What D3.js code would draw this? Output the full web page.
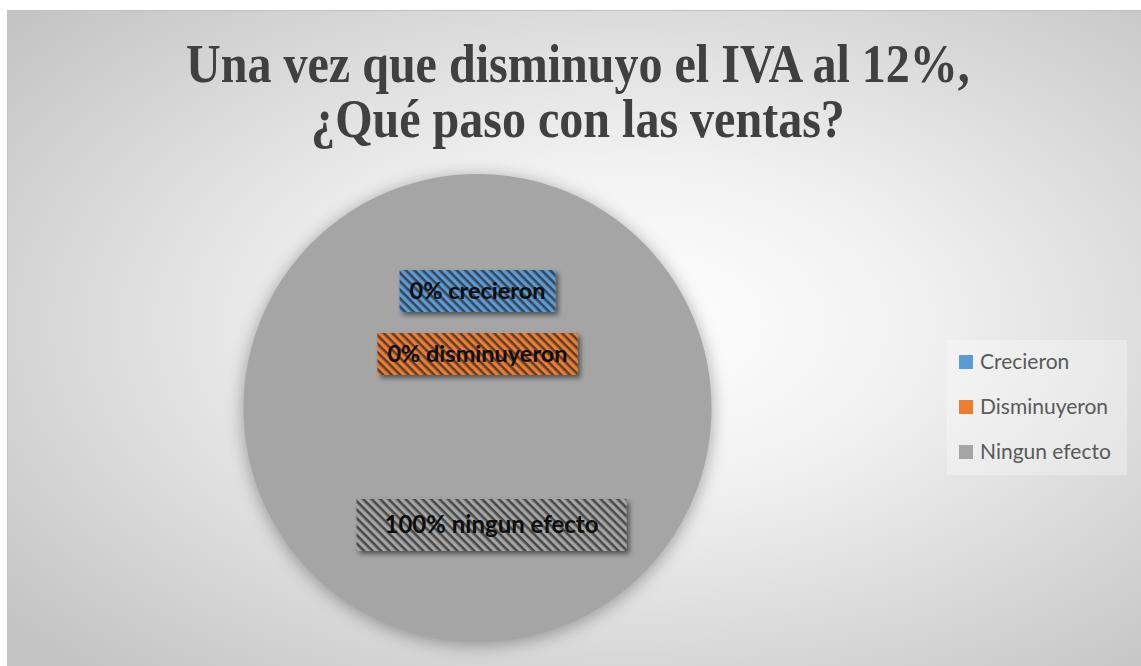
<!DOCTYPE html>
<html>
<head>
<meta charset="utf-8">
<script src="https://cdn.jsdelivr.net/npm/d3@7"></script>
<style>
  html, body { margin: 0; padding: 0; background: #ffffff; }
</style>
</head>
<body>
<div id="chartContainer"></div>
<script>
// data
var categories = ["Crecieron", "Disminuyeron", "Ningun efecto"];
var values = [0, 0, 100];
var labelTexts = ["0% crecieron", "0% disminuyeron", "100% ningun efecto"];
var colors = ["#5b9bd5", "#ed7d31", "#a5a5a5"];
var titleLines = ["Una vez que disminuyo el IVA al 12%,", "\u00bfQu\u00e9 paso con las ventas?"];

var W = 1141, H = 666;
var svg = d3.select("#chartContainer").append("svg")
  .attr("width", W).attr("height", H);
var defs = svg.append("defs");

// background gradient of the chart area
var bg = defs.append("radialGradient").attr("id", "bgGrad")
  .attr("cx", 0.55).attr("cy", 0.48).attr("r", 0.72);
bg.append("stop").attr("offset", 0).attr("stop-color", "#ffffff");
bg.append("stop").attr("offset", 0.35).attr("stop-color", "#f1f1f1");
bg.append("stop").attr("offset", 1).attr("stop-color", "#c3c3c3");

// shadows
var pf = defs.append("filter").attr("id", "pieShadow")
  .attr("x", -0.2).attr("y", -0.2).attr("width", 1.4).attr("height", 1.4);
pf.append("feGaussianBlur").attr("in", "SourceAlpha").attr("stdDeviation", 9).attr("result", "b");
pf.append("feOffset").attr("in", "b").attr("dy", 3).attr("result", "o");
pf.append("feComponentTransfer").attr("in", "o")
  .append("feFuncA").attr("type", "linear").attr("slope", 0.35);

var lf = defs.append("filter").attr("id", "boxShadow")
  .attr("x", -0.2).attr("y", -0.3).attr("width", 1.4).attr("height", 1.7);
lf.append("feGaussianBlur").attr("in", "SourceAlpha").attr("stdDeviation", 2.5).attr("result", "b");
lf.append("feOffset").attr("in", "b").attr("dx", 3).attr("dy", 3).attr("result", "o");
lf.append("feComponentTransfer").attr("in", "o").attr("result", "s")
  .append("feFuncA").attr("type", "linear").attr("slope", 0.5);
var lm = lf.append("feMerge");
lm.append("feMergeNode").attr("in", "s");
lm.append("feMergeNode").attr("in", "SourceGraphic");

// hatch pattern per colour
colors.forEach(function (c, i) {
  var p = defs.append("pattern").attr("id", "hatch" + i)
    .attr("patternUnits", "userSpaceOnUse")
    .attr("width", 6).attr("height", 6)
    .attr("patternTransform", "rotate(45)");
  p.append("rect").attr("width", 6).attr("height", 6).attr("fill", c);
  p.append("rect").attr("width", 6).attr("height", 2.6).attr("fill", "#2a2a2a").attr("opacity", 0.75);
});

// chart area
svg.append("rect")
  .attr("x", 7.5).attr("y", 10.5).attr("width", W - 7).attr("height", H - 10)
  .attr("fill", "url(#bgGrad)").attr("stroke", "#c0c0c0").attr("stroke-width", 1);

// title
var title = svg.append("g");
var tY = [82, 137];
title.selectAll("text").data(titleLines).enter().append("text")
  .attr("x", 578)
  .attr("y", function (d, i) { return tY[i]; })
  .attr("text-anchor", "middle")
  .style("font-family", "'Liberation Serif', 'Times New Roman', serif")
  .style("font-weight", "bold")
  .style("font-size", "55px")
  .attr("fill", "#404040")
  .text(function (d) { return d; });
// squeeze the title to the narrow width of the original face
var firstW = title.select("text").node().getComputedTextLength();
var sx = 784 / firstW;
title.selectAll("text").attr("transform", function (d, i) {
  var y = tY[i];
  return "translate(578," + y + ") scale(" + sx + ",1) translate(-578," + (-y) + ")";
});

// pie
var cx = 477.5, cy = 408, r = 234;
var pie = d3.pie().sort(null).value(function (d) { return d; });
var arcs = pie(values);
var arc = d3.arc().innerRadius(0).outerRadius(r);
var labelArc = d3.arc().innerRadius(r * 0.5).outerRadius(r * 0.5);

var pg = svg.append("g").attr("transform", "translate(" + cx + "," + cy + ")");
pg.append("g").attr("filter", "url(#pieShadow)")
  .selectAll("path").data(arcs).enter().append("path")
  .attr("d", arc).attr("fill", "#000");
pg.selectAll("path.slice").data(arcs).enter().append("path")
  .attr("class", "slice")
  .attr("d", arc)
  .attr("fill", function (d, i) { return colors[i]; });

// data labels, pushed down when they collide
var lg = pg.append("g");
var prevBottom = -Infinity;
arcs.forEach(function (d, i) {
  var c = labelArc.centroid(d);
  var big = d.value >= 50;
  var g = lg.append("g");
  var t = g.append("text")
    .attr("text-anchor", "middle")
    .attr("dy", "0.35em")
    .style("font-family", "Lato, 'Open Sans', sans-serif")
    .style("font-weight", "bold")
    .style("font-size", big ? "24px" : "23.5px")
    .attr("fill", "#0d0d0d")
    .text(labelTexts[i]);
  var tw = t.node().getComputedTextLength();
  var bw = tw + (big ? 56 : 20), bh = big ? 52 : 42;
  var x = c[0] + (big ? 14 : 0);
  var y = c[1];
  if (y - bh / 2 < prevBottom + 21) y = prevBottom + 21 + bh / 2;
  prevBottom = y + bh / 2;
  g.insert("rect", "text")
    .attr("x", x - bw / 2).attr("y", y - bh / 2)
    .attr("width", bw).attr("height", bh)
    .attr("fill", "url(#hatch" + i + ")")
    .attr("filter", "url(#boxShadow)");
  t.attr("x", x).attr("y", y);
});

// legend
var ly = d3.scalePoint().domain(categories).range([362, 452]);
var leg = svg.append("g");
leg.append("rect")
  .attr("x", 947).attr("y", 340).attr("width", 180).attr("height", 135)
  .attr("fill", "#ffffff").attr("opacity", 0.3);
var items = leg.selectAll("g.item").data(categories).enter().append("g")
  .attr("class", "item")
  .attr("transform", function (d) { return "translate(959," + ly(d) + ")"; });
items.append("rect")
  .attr("x", 0).attr("y", -7).attr("width", 14).attr("height", 14)
  .attr("fill", function (d, i) { return colors[i]; });
items.append("text")
  .attr("x", 21).attr("dy", "0.35em")
  .style("font-family", "Lato, 'Open Sans', sans-serif")
  .style("font-size", "21px")
  .attr("fill", "#595959")
  .text(function (d) { return d; });
</script>
</body>
</html>
